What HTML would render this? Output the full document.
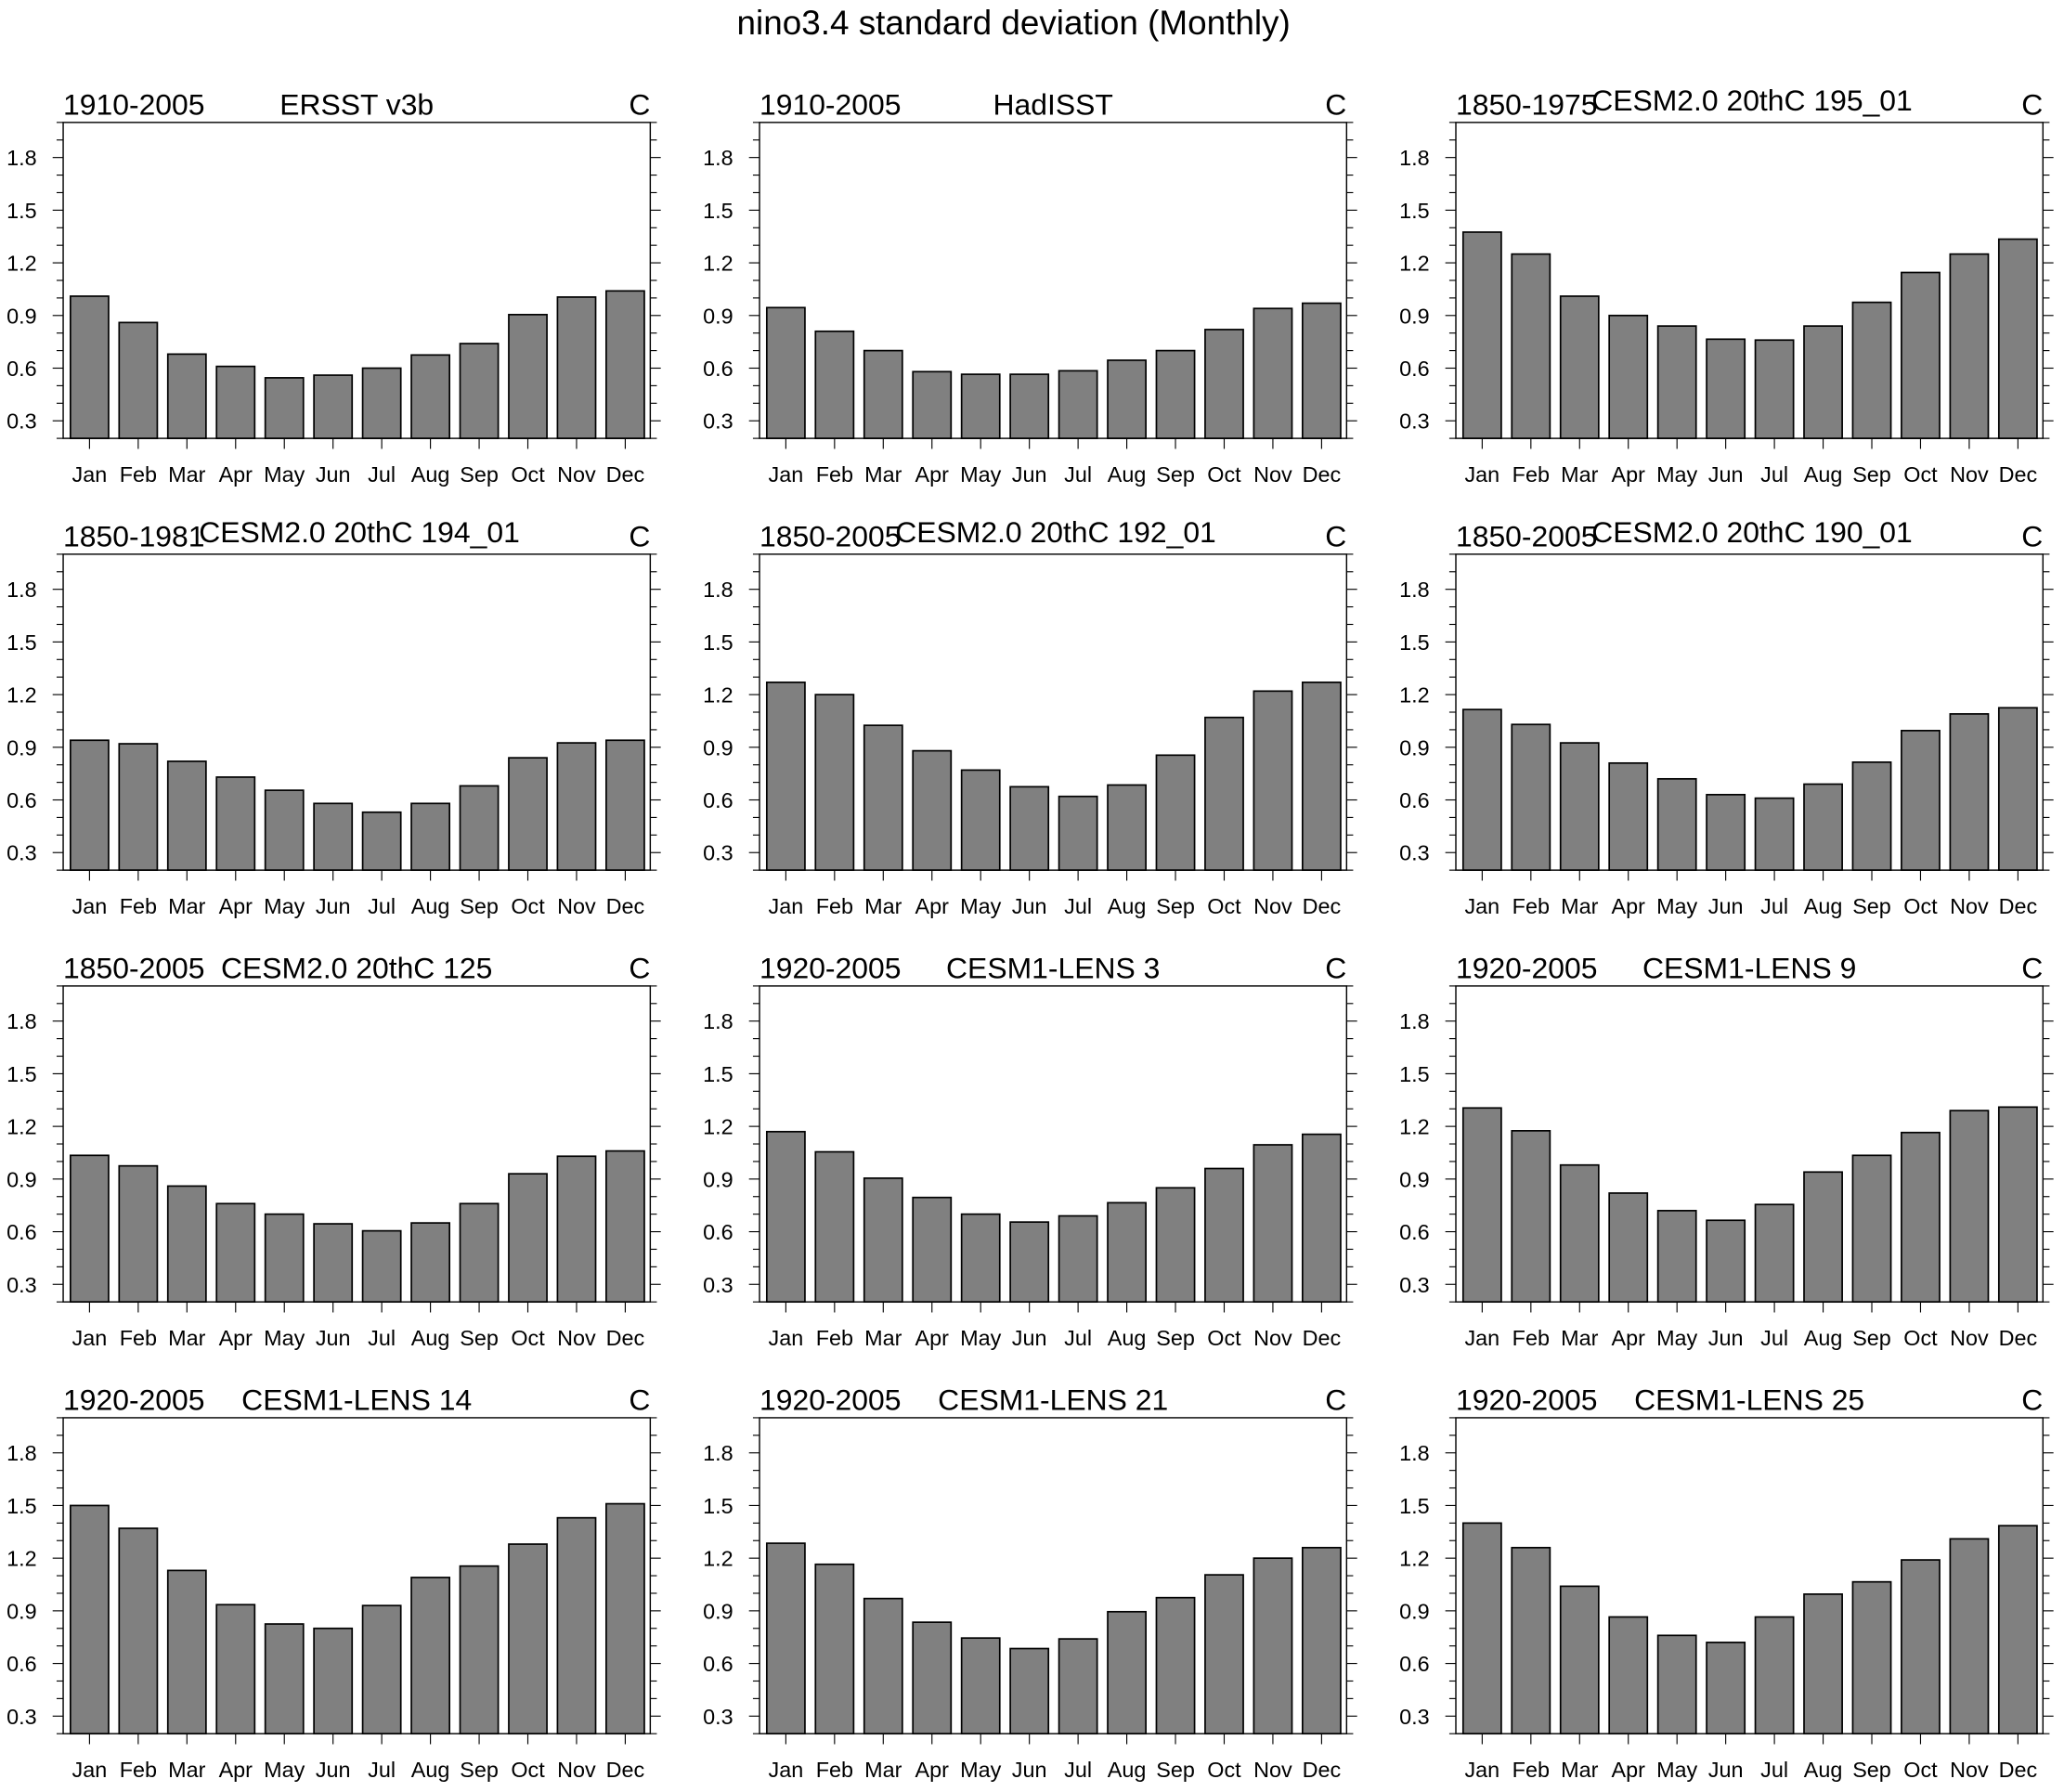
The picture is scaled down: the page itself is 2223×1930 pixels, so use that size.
<!DOCTYPE html>
<html><head><meta charset="utf-8"><style>
html,body{margin:0;padding:0;background:#fff}
svg{display:block}
text{font-family:"Liberation Sans",sans-serif;fill:#000}
</style></head><body>
<svg id="chart" width="2223" height="1930" viewBox="0 0 1568 1361.3" preserveAspectRatio="none" xmlns="http://www.w3.org/2000/svg">
<rect width="1568" height="1361.3" fill="#fff"/>
<text x="770" y="26" font-size="26" text-anchor="middle">nino3.4 standard deviation (Monthly)</text>
</svg>
<script>
const months = ["Jan","Feb","Mar","Apr","May","Jun","Jul","Aug","Sep","Oct","Nov","Dec"];
const periods = ["1910-2005","1910-2005","1850-1975","1850-1981","1850-2005","1850-2005","1850-2005","1920-2005","1920-2005","1920-2005","1920-2005","1920-2005"];
const names = ["ERSST v3b","HadISST","CESM2.0 20thC 195_01","CESM2.0 20thC 194_01","CESM2.0 20thC 192_01","CESM2.0 20thC 190_01","CESM2.0 20thC 125","CESM1-LENS 3","CESM1-LENS 9","CESM1-LENS 14","CESM1-LENS 21","CESM1-LENS 25"];
const yTicks = [0.3,0.6,0.9,1.2,1.5,1.8];
const s1 = [1.01,0.86,0.68,0.61,0.545,0.56,0.60,0.675,0.74,0.905,1.005,1.04];
const s2 = [0.945,0.81,0.70,0.58,0.565,0.565,0.585,0.645,0.70,0.82,0.94,0.97];
const s3 = [1.375,1.25,1.01,0.90,0.84,0.765,0.76,0.84,0.975,1.145,1.25,1.335];
const s4 = [0.94,0.92,0.82,0.73,0.655,0.58,0.53,0.58,0.68,0.84,0.925,0.94];
const s5 = [1.27,1.20,1.025,0.88,0.77,0.675,0.62,0.685,0.855,1.07,1.22,1.27];
const s6 = [1.115,1.03,0.925,0.81,0.72,0.63,0.61,0.69,0.815,0.995,1.09,1.125];
const s7 = [1.035,0.975,0.86,0.76,0.70,0.645,0.605,0.65,0.76,0.93,1.03,1.06];
const s8 = [1.17,1.055,0.905,0.795,0.70,0.655,0.69,0.765,0.85,0.96,1.095,1.155];
const s9 = [1.305,1.175,0.98,0.82,0.72,0.665,0.755,0.94,1.035,1.165,1.29,1.31];
const s10 = [1.50,1.37,1.13,0.935,0.825,0.80,0.93,1.09,1.155,1.28,1.43,1.51];
const s11 = [1.285,1.165,0.97,0.835,0.745,0.685,0.74,0.895,0.975,1.105,1.20,1.26];
const s12 = [1.40,1.26,1.04,0.865,0.76,0.72,0.865,0.995,1.065,1.19,1.31,1.385];
const series = [s1,s2,s3,s4,s5,s6,s7,s8,s9,s10,s11,s12];

const svg = document.getElementById('chart');
const NS = 'http://www.w3.org/2000/svg';
function mk(tag, attrs, parent){const e=document.createElementNS(NS,tag);for(const k in attrs)e.setAttribute(k,attrs[k]);parent.appendChild(e);return e;}
const W=446,H=240,YMIN=0.2,YMAX=2.0;
series.forEach((vals,p)=>{
  const col=p%3,row=Math.floor(p/3);
  const x0=48+col*529,y0=93+row*328;
  const yS=v=>y0+(YMAX-v)/(YMAX-YMIN)*H;
  const xS=i=>x0+20+i*37;
  const g=mk('g',{},svg);
  
  
  vals.forEach((v,i)=>{
    const r=mk('rect',{x:xS(i)-14.5,y:yS(v),width:29,height:y0+H-yS(v),fill:'#808080',stroke:'#000','stroke-width':1.2},g);
    
    
  });
  const f=mk('rect',{x:x0,y:y0,width:W,height:H,fill:'none',stroke:'#000','stroke-width':1},g);
  
  
  for(let k=2;k<=20;k++){const v=k/10;const y=yS(v);const major=(k%3===0);const L=major?8:5;
    mk('line',{x1:x0-L,x2:x0,y1:y,y2:y,stroke:'#000','stroke-width':0.8},g);
    mk('line',{x1:x0+W,x2:x0+W+L,y1:y,y2:y,stroke:'#000','stroke-width':0.8},g);}
  yTicks.forEach(v=>{const t=mk('text',{x:x0-20,y:yS(v)+6,'font-size':16.5,'text-anchor':'end'},g);t.textContent=v.toFixed(1);
    
    });
  months.forEach((m,i)=>{mk('line',{x1:xS(i),x2:xS(i),y1:y0+H,y2:y0+H+8,stroke:'#000','stroke-width':0.8},g);
    const t=mk('text',{x:xS(i),y:y0+H+33,'font-size':16.5,'text-anchor':'middle'},g);t.textContent=m;
    
    });
  const a=mk('text',{x:x0,y:y0-6,'font-size':22.5},g);a.textContent=periods[p];
  
  
  const long=names[p].indexOf('_')>=0;
  const b=mk('text',{x:long?x0+W/2+2:x0+W/2,y:long?y0-9:y0-6,'font-size':22.5,'text-anchor':'middle'},g);b.textContent=names[p];
  
  
  const c=mk('text',{x:x0+W,y:y0-6,'font-size':22.5,'text-anchor':'end'},g);c.textContent='C';
  
  
});
</script>
</body></html>
